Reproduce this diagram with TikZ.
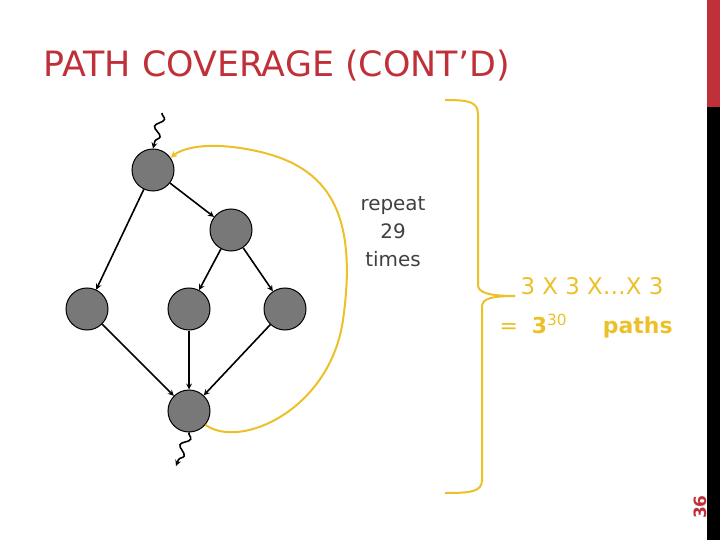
\documentclass[tikz,border=0pt]{standalone}
\usepackage{fontspec}
\setmainfont{DejaVu Sans}
\usetikzlibrary{decorations.pathmorphing}
\definecolor{titlered}{RGB}{192,48,56}
\definecolor{loopyellow}{RGB}{236,192,40}
\definecolor{nodegray}{RGB}{120,120,120}
\tikzset{
	vertex/.style={circle, draw=black, line width=1bp, fill=nodegray, minimum size=42bp, inner sep=0pt},
	edge/.style={->, >=stealth, line width=1.6bp},
	squig/.style={->, >=stealth, line width=1.6bp, decorate, decoration={snake, amplitude=4bp, segment length=18bp, post length=4bp}},
	yline/.style={loopyellow, line width=2bp},
}
\begin{document}
\begin{tikzpicture}[x=1bp, y=-1bp]
	\useasboundingbox (0,0) rectangle (720,540);
	\fill[titlered] (707,0) rectangle (720,107);
	\fill[black] (707,107) rectangle (720,540);
	\node[rotate=90, text=titlered, font=\bfseries\fontsize{17}{17}\selectfont] (pg) at (700,507) {36};
	\node[anchor=west, text=titlered, font=\fontsize{35}{35}\selectfont] (title) at (40,66) {PATH COVERAGE (CONT’D)};

	\draw node[vertex] at (153,170) (n1) {};
	\draw node[vertex] at (231,230) (n2) {};
	\draw node[vertex] at (87,309) (n3) {};
	\draw node[vertex] at (189,309) (n4) {};
	\draw node[vertex] at (285,309) (n5) {};
	\draw node[vertex] at (189,411) (n6) {};
	\coordinate (in) at (162,113);
	\coordinate (out) at (176,466);

	\draw [squig] (in) -- (n1.north);
	\draw [squig] (n6.south) -- (out);
	\draw [edge] (n1) -- (n2);
	\draw [edge] (n1) -- (n3);
	\draw [edge] (n2) -- (n4);
	\draw [edge] (n2) -- (n5);
	\draw [edge] (n3) -- (n6);
	\draw [edge] (n4) -- (n6);
	\draw [edge] (n5) -- (n6);

	\draw [yline, ->, >=stealth] (n6.-40) .. controls (240,450) and (330,410) .. (343,320)
		.. controls (360,200) and (320,160) .. (240,148) .. controls (200,142) and (180,150) .. (n1.35);
	\node[align=center, text=black!75, font=\fontsize{20}{28}\selectfont] (rep) at (393,232) {repeat\\29\\times};

	\draw [yline] (445,100) .. controls (470,100) and (478,102) .. (478,115) -- (478,285)
		.. controls (478,293) and (490,296) .. (515,296);
	\draw [yline] (515,296) .. controls (490,296) and (482,299) .. (482,307) -- (482,480)
		.. controls (482,492) and (470,493) .. (445,493);
	\node[text=loopyellow, font=\fontsize{23}{23}\selectfont] (prod) at (592,286) {3 X 3 X…X 3};
	\node[anchor=west, text=loopyellow, font=\fontsize{22}{22}\selectfont] (res) at (496,326)
		{= \ \textbf{3}\textsuperscript{30} \quad\ \textbf{paths}};
\end{tikzpicture}
\end{document}
